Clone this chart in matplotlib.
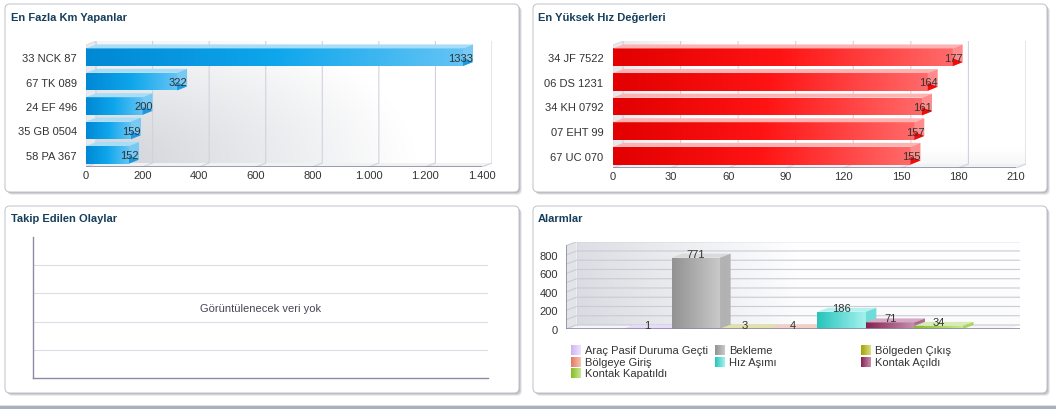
import numpy as np
import matplotlib
matplotlib.use("Agg")
import matplotlib.pyplot as plt
from matplotlib.patches import Rectangle, Polygon, FancyBboxPatch
from matplotlib.colors import LinearSegmentedColormap, to_rgb

plt.rcParams['font.family'] = ['Liberation Sans', 'DejaVu Sans']
plt.rcParams['font.size'] = 8

W, H = 1056, 410

km_plates = ['33 NCK 87', '67 TK 089', '24 EF 496', '35 GB 0504', '58 PA 367']
km_values = [1333, 322, 200, 159, 152]
km_ticks = [0, 200, 400, 600, 800, 1000, 1200, 1400]
km_tick_labels = ['0', '200', '400', '600', '800', '1.000', '1.200', '1.400']

speed_plates = ['34 JF 7522', '06 DS 1231', '34 KH 0792', '07 EHT 99', '67 UC 070']
speed_values = [177, 164, 161, 157, 155]
speed_ticks = [0, 30, 60, 90, 120, 150, 180, 210]

alarm_names = ['Araç Pasif Duruma Geçti', 'Bekleme', 'Bölgeden Çıkış', 'Bölgeye Giriş',
               'Hız Aşımı', 'Kontak Açıldı', 'Kontak Kapatıldı']
alarm_counts = [1, 771, 3, 4, 186, 71, 34]
alarm_ticks = [0, 200, 400, 600, 800]

# dark, light, top face, side face
alarm_colors = [
    ('#cfb2f2', '#f0e4ff', '#e8dafa', '#dcc8f6'),
    ('#929292', '#cacaca', '#dadada', '#b2b2b2'),
    ('#a2a200', '#dede80', '#e2e2a4', '#c8c860'),
    ('#de7a62', '#f8c4b4', '#f6cfc2', '#eaa090'),
    ('#26c4bc', '#a6f2ee', '#b4f2f0', '#70dcd8'),
    ('#862250', '#c890b0', '#d6aac2', '#b06a90'),
    ('#84bc24', '#cae890', '#d6ecb2', '#aad460'),
]

TITLE_COLOR = '#163f5c'
TEXT_COLOR = '#333333'
AXIS_COLOR = '#8a8aa6'
GRID_COLOR = '#d2d2de'


def add_axes_px(fig, left, top, right, bottom):
    return fig.add_axes([left / W, 1 - bottom / H, (right - left) / W, (bottom - top) / H])


def box_axes(fig, left, top, right, bottom, xr, yr, dpx=10, dpy=4):
    # front plane given in pixels, the axes grows by the 3d depth
    ux = (xr[1] - xr[0]) / (right - left)
    uy = (yr[1] - yr[0]) / (bottom - top)
    ax = add_axes_px(fig, left, top - dpy, right + dpx, bottom)
    lims = ((xr[0], xr[1] + dpx * ux), (yr[0], yr[1] + dpy * uy))
    ax.set_xlim(*lims[0])
    ax.set_ylim(*lims[1])
    ax.set_facecolor('none')
    for s in ax.spines.values():
        s.set_visible(False)
    return ax, dpx * ux, dpy * uy, lims


def shade(ax, patch, colors, z):
    x, y = patch.get_x(), patch.get_y()
    w, h = patch.get_width(), patch.get_height()
    cmap = LinearSegmentedColormap.from_list('g', colors)
    im = ax.imshow(np.linspace(0, 1, 128)[None, :], cmap=cmap, aspect='auto',
                   extent=(x, x + w, y, y + h), zorder=z, interpolation='bilinear')
    im.set_clip_path(patch)


def wall_image(ax, extent, gray, kind, z=0.5):
    nx, ny = 200, 80
    u, v = np.meshgrid(np.linspace(0, 1, nx), np.linspace(0, 1, ny))
    if kind == 'radial':
        a = np.clip(1.15 - np.sqrt((u / 0.7) ** 2 + (v / 1.1) ** 2), 0, 1)
    elif kind == 'faint':
        a = np.clip(1 - u / 0.2, 0, 1) * 0.5 + np.clip(1 - v / 0.12, 0, 1) * 0.2
    else:
        a = np.clip(1 - u / 0.5, 0, 1) * 0.9 + 0.1 * (1 - v)
    a = np.clip(a, 0, 1)[..., None]
    img = (1 - a) * np.ones(3) + a * np.array(to_rgb(gray))
    ax.imshow(img, extent=extent, origin='lower', aspect='auto', zorder=z, interpolation='bilinear')


def hbar_panel(fig, front, xmax, ticks, tick_labels, plates, values, colors, top_c, side_c, wall, pad):
    left, top, right, bottom = front
    n = len(values)
    ax, dx, dy, lims = box_axes(fig, left, top, right, bottom, (0, xmax), (-0.5, n - 0.5))
    y0, y1 = -0.5, n - 0.5
    wall_image(ax, (dx, xmax + dx, y0 + dy, y1 + dy), '#d6d8dd', wall)
    ax.add_patch(Polygon([(0, y0), (dx, y0 + dy), (dx, y1 + dy), (0, y1)],
                         facecolor='#e8e9ed', edgecolor='#d8d8e0', lw=0.6, zorder=0.6))
    ax.add_patch(Polygon([(0, y0), (xmax, y0), (xmax + dx, y0 + dy), (dx, y0 + dy)],
                         facecolor='#f0f1f3', edgecolor='none', zorder=0.6))
    for t in ticks:
        ax.plot([t, t + dx, t + dx], [y0, y0 + dy, y1 + dy], color=GRID_COLOR, lw=0.8, zorder=1)
    ax.plot([0, xmax], [y0, y0], color=AXIS_COLOR, lw=1.2, zorder=2, solid_capstyle='butt')

    ys = np.arange(n)[::-1]
    bars = ax.barh(ys, values, height=0.72, left=0, color=colors[1], zorder=3)
    for i, (p, v) in enumerate(zip(bars.patches, values)):
        z = 3 + i * 0.1
        shade(ax, p, colors, z + 0.01)
        bx, by, bh = p.get_x() + p.get_width(), p.get_y(), p.get_height()
        ax.add_patch(Polygon([(0, by + bh), (bx, by + bh), (bx + dx, by + bh + dy), (dx, by + bh + dy)],
                             facecolor=top_c, edgecolor='none', zorder=z + 0.02))
        ax.add_patch(Polygon([(bx, by), (bx, by + bh), (bx + dx, by + bh + dy), (bx + dx, by + dy)],
                             facecolor=side_c[0], edgecolor='none', zorder=z + 0.02))
        ax.add_patch(Polygon([(bx, by), (bx + dx, by + dy), (bx, by + 0.45 * bh)],
                             facecolor=side_c[1], edgecolor='none', zorder=z + 0.03))
        ax.text(v + dx, ys[i] - 0.02, str(v), ha='right', va='center', color=TEXT_COLOR, zorder=6)

    ax.set_xticks(ticks, tick_labels)
    ax.set_yticks(ys, plates)
    ax.tick_params(axis='x', length=0, pad=2, colors=TEXT_COLOR)
    ax.tick_params(axis='y', length=0, pad=pad, colors=TEXT_COLOR)
    ax.set_xlim(*lims[0])
    ax.set_ylim(*lims[1])
    return ax


fig = plt.figure(figsize=(W / 100, H / 100), dpi=100)
fig.patch.set_facecolor('white')

# background layer in pixel coordinates: panels, titles, legend
bg = fig.add_axes([0, 0, 1, 1])
bg.set_xlim(0, W)
bg.set_ylim(H, 0)
bg.axis('off')

panels = [(5, 5, 519, 193), (533, 5, 1047, 193), (5, 207, 519, 394), (533, 207, 1047, 394)]
for l, t, r, b in panels:
    for off, al in [(3, 0.12), (2, 0.22), (1, 0.3)]:
        bg.add_patch(FancyBboxPatch((l + off, t + off), r - l, b - t,
                                    boxstyle='round,pad=0,rounding_size=5',
                                    facecolor='#6e7280', edgecolor='none', alpha=al))
    bg.add_patch(FancyBboxPatch((l, t), r - l, b - t, boxstyle='round,pad=0,rounding_size=5',
                                facecolor='white', edgecolor='#c6c8ce', lw=0.8))

titles = ['En Fazla Km Yapanlar', 'En Yüksek Hız Değerleri', 'Takip Edilen Olaylar', 'Alarmlar']
title_pos = [(11, 18), (538, 18), (11, 219), (538, 219)]
for (tx, ty), s in zip(title_pos, titles):
    bg.text(tx, ty, s, fontweight='bold', va='center', ha='left', color=TITLE_COLOR)

bg.add_patch(Rectangle((0, 405.5), W, 1.5, facecolor='#dde1e8', edgecolor='none'))
bg.add_patch(Rectangle((0, 407), W, 2.5, facecolor='#a9b1c1', edgecolor='none'))

# panel 1 and 2: horizontal 3d bars
hbar_panel(fig, (86, 46, 482, 168), 1400, km_ticks, km_tick_labels, km_plates, km_values,
           ['#0088d4', '#0ea6ec', '#64c4f5'], '#a8ddf7', ('#78c9f3', '#1a98e0'), 'radial', 6.5)
hbar_panel(fig, (613, 46, 1016, 169), 210, speed_ticks, [str(t) for t in speed_ticks],
           speed_plates, speed_values,
           ['#e20000', '#ff1414', '#ff6a6a'], '#ffb2b2', ('#ff8c8c', '#f00a0a'), 'faint', 7)

# panel 3: empty chart
ax3 = add_axes_px(fig, 33, 238, 488, 379)
ax3.set_facecolor('none')
ax3.set_xlim(0, 1)
ax3.set_ylim(0, 5)
for g in range(1, 5):
    ax3.axhline(g, color='#dcdce6', lw=0.8)
for side in ['top', 'right']:
    ax3.spines[side].set_visible(False)
for side in ['left', 'bottom']:
    ax3.spines[side].set_color(AXIS_COLOR)
    ax3.spines[side].set_linewidth(1.0)
ax3.set_xticks([])
ax3.set_yticks([])
ax3.text(0.5, 0.5, 'Görüntülenecek veri yok', transform=ax3.transAxes,
         ha='center', va='center', color='#454556')

# panel 4: 3d columns
n_al = len(alarm_counts)
xr = (-57 / 48.6, n_al + 46 / 48.6)
ax4, dx, dy, lims4 = box_axes(fig, 566, 247, 1009, 330, xr, (0, 897), dpx=10.5, dpy=4)
x0, x1 = xr
wall_image(ax4, (x0 + dx, x1 + dx, dy, 900 + dy), '#d8dbe0', 'linear')
ax4.add_patch(Polygon([(x0, 0), (x0 + dx, dy), (x0 + dx, 900 + dy), (x0, 900)],
                      facecolor='#e2e4e8', edgecolor='none', zorder=0.6))
ax4.add_patch(Polygon([(x0, 0), (x1, 0), (x1 + dx, dy), (x0 + dx, dy)],
                      facecolor='#f6f6f8', edgecolor='none', zorder=0.6))
for g in range(0, 1000, 100):
    ax4.plot([x0, x0 + dx, x1 + dx], [g, g + dy, g + dy], color='#cacad8', lw=0.8, zorder=1)
ax4.plot([x0 + dx, x0 + dx], [dy, 900 + dy], color='#d4d4de', lw=0.8, zorder=1)
ax4.plot([x0, x0], [0, 900], color=AXIS_COLOR, lw=1.2, zorder=2)
ax4.plot([x0, x1 + dx], [0, 0], color=AXIS_COLOR, lw=1.2, zorder=7, solid_capstyle='butt')

cols = ax4.bar(np.arange(n_al), alarm_counts, width=1.0, align='edge', zorder=3,
               color=[c[0] for c in alarm_colors])
for i, (p, v, c) in enumerate(zip(cols.patches, alarm_counts, alarm_colors)):
    z = 3 + i * 0.1
    shade(ax4, p, [c[0], c[1]], z + 0.01)
    bl, br, bt = p.get_x(), p.get_x() + p.get_width(), p.get_height()
    ax4.add_patch(Polygon([(bl, bt), (br, bt), (br + dx, bt + dy), (bl + dx, bt + dy)],
                          facecolor=c[2], edgecolor='none', zorder=z + 0.02))
    ax4.add_patch(Polygon([(br, 0), (br + dx, dy), (br + dx, bt + dy), (br, bt)],
                          facecolor=c[3], edgecolor='none', zorder=z + 0.02))
    ax4.text(bl + 0.5, bt + dy, str(v), ha='center', va='center', color=TEXT_COLOR, zorder=8)

ax4.set_xticks([])
ax4.set_yticks(alarm_ticks, [str(t) for t in alarm_ticks])
ax4.tick_params(axis='y', length=0, pad=5.8, colors=TEXT_COLOR)
ax4.set_xlim(*lims4[0])
ax4.set_ylim(*lims4[1])

# legend for the alarms, three fixed columns
leg_x = [571, 715, 861]
leg_y = [351, 362.7, 374.4]
for i, (name, c) in enumerate(zip(alarm_names, alarm_colors)):
    lx, ly = leg_x[i % 3], leg_y[i // 3]
    sq = Rectangle((lx, ly - 5), 10, 10, facecolor=c[0], edgecolor='none')
    bg.add_patch(sq)
    shade(bg, sq, [c[0], c[1]], 2)
    bg.text(lx + 14, ly, name, va='center', ha='left', color=TEXT_COLOR)
bg.set_xlim(0, W)
bg.set_ylim(H, 0)

fig.savefig('out.png', dpi=100)
